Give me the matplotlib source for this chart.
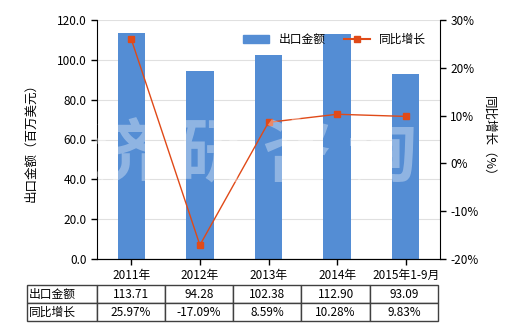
import numpy as np
import matplotlib
matplotlib.use('Agg')
import matplotlib.pyplot as plt
from matplotlib.lines import Line2D
from matplotlib.patches import Patch

plt.rcParams['font.family'] = ['Noto Sans CJK SC', 'DejaVu Sans']

years = ['2011年', '2012年', '2013年', '2014年', '2015年1-9月']
export_value = [113.71, 94.28, 102.38, 112.90, 93.09]  # 百万美元
yoy_growth = [25.97, -17.09, 8.59, 10.28, 9.83]  # %

bar_color = '#548DD4'
line_color = '#E04A18'

fig = plt.figure(figsize=(5.2, 3.3), dpi=100)
ax = fig.add_axes([97/520, 1-259/330, 343/520, 239/330])
x = np.arange(len(years))

ax.bar(x, export_value, width=0.4, color=bar_color, zorder=2)
ax.set_xlim(-0.5, len(years)-0.5)
ax.set_ylim(0, 120)
ax.set_yticks(np.arange(0, 121, 20))
ax.set_yticklabels(['%.1f' % v for v in np.arange(0, 121, 20)], fontsize=8.5)
ax.set_xticks(x)
ax.set_xticklabels(years, fontsize=8.5)
ax.grid(axis='y', color='#e0e0e0', linewidth=0.8, zorder=0)
ax.spines['top'].set_visible(False)
ax.spines['right'].set_visible(False)
ax.tick_params(axis='both', length=4, width=1)
ax.set_ylabel('出口金额（百万美元）', fontsize=9)
ax.yaxis.set_label_coords(-0.175, 0.5)

ax2 = ax.twinx()
ax2.plot(x, yoy_growth, color=line_color, linewidth=1, marker='s', markersize=5, zorder=3)
ax2.set_ylim(-20, 30)
ax2.set_yticks(np.arange(-20, 31, 10))
ax2.set_yticklabels(['%d%%' % v for v in np.arange(-20, 31, 10)], fontsize=8.5)
ax2.spines['top'].set_visible(False)
ax2.spines['left'].set_visible(False)
ax2.tick_params(axis='y', length=4, width=1)
ax2.set_ylabel('同比增长（%）', fontsize=9, rotation=270, labelpad=14)
ax2.yaxis.set_label_coords(1.16, 0.5)

# watermark
fig.text(0.49, 0.53, '济 研 咨 询', fontsize=50, fontweight='bold', color='white',
         alpha=0.35, ha='center', va='center', zorder=10)

handles = [Patch(color=bar_color, label='出口金额'),
           Line2D([0], [0], color=line_color, marker='s', markersize=4, linewidth=1.5, label='同比增长')]
ax2.legend(handles=handles, loc='upper right', bbox_to_anchor=(0.99, 0.99), ncol=2,
           frameon=False, fontsize=8.5, handlelength=2.2, columnspacing=1.5)

# data table
cell_text = [['出口金额'] + ['%.2f' % v for v in export_value],
             ['同比增长'] + ['%.2f%%' % v for v in yoy_growth]]
tbl = ax.table(cellText=cell_text, cellLoc='center',
               colWidths=[70/341] + [68.6/341]*5,
               bbox=[(27-97)/343, (259-321)/239, 411/343, 36/239])
tbl.auto_set_font_size(False)
tbl.set_fontsize(8.5)
for (r, c), cell in tbl.get_celld().items():
    cell.set_edgecolor('#404040')
    cell.set_linewidth(1)
    if c == 0:
        cell.get_text().set_ha('left')
        cell.PAD = 0.03

fig.savefig('out.png', dpi=100)
